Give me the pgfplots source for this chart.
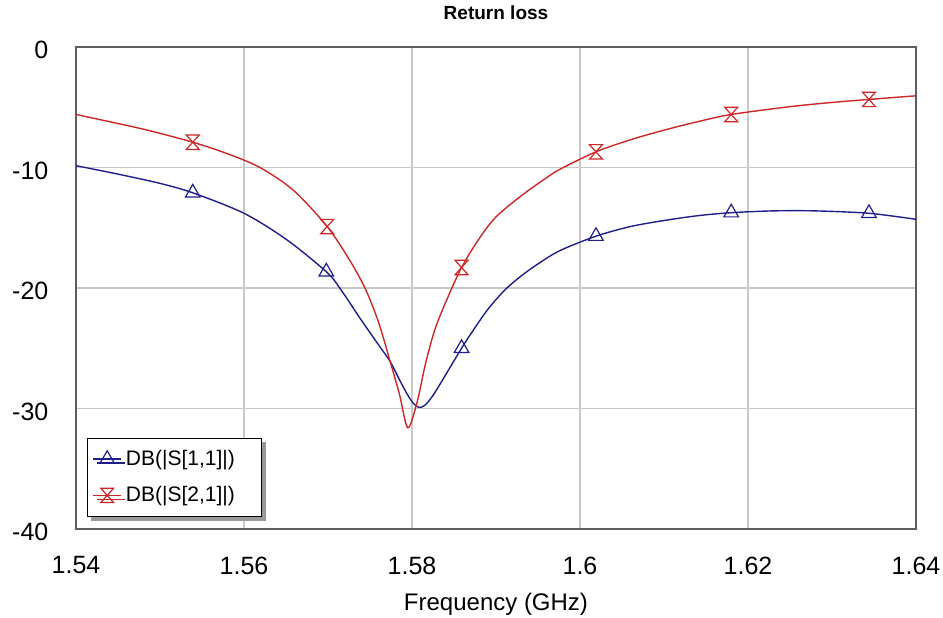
\documentclass[border=0pt]{standalone}
\usepackage{pgfplots}
\pgfplotsset{compat=1.18}
\usepackage{fontspec}
\setmainfont{Liberation Sans}
\usetikzlibrary{shadows}
\definecolor{sblue}{RGB}{30,30,140}
\definecolor{sred}{RGB}{205,40,40}
\definecolor{gridc}{RGB}{200,200,200}
\definecolor{boxc}{RGB}{95,95,95}
\pgfdeclareplotmark{hourglass}{%
  \pgfpathmoveto{\pgfqpoint{-0.9\pgfplotmarksize}{\pgfplotmarksize}}%
  \pgfpathlineto{\pgfqpoint{0.9\pgfplotmarksize}{\pgfplotmarksize}}%
  \pgfpathlineto{\pgfqpoint{-0.9\pgfplotmarksize}{-\pgfplotmarksize}}%
  \pgfpathlineto{\pgfqpoint{0.9\pgfplotmarksize}{-\pgfplotmarksize}}%
  \pgfpathclose\pgfusepathqstroke}
\begin{document}
\begin{tikzpicture}
\useasboundingbox (0,0) rectangle (471.5pt,308.5pt);
\begin{axis}[
  at={(38pt,44pt)}, anchor=south west,
  scale only axis, width=420pt, height=241pt,
  xmin=1.54, xmax=1.64, ymin=-40, ymax=0,
  xtick={1.54,1.56,1.58,1.6,1.62,1.64},
  xticklabels={1.54,1.56,1.58,1.6,1.62,1.64},
  ytick={-40,-30,-20,-10,0},
  major tick length=0pt,
  grid=major,
  major grid style={gridc, line width=0.6pt},
  axis line style={boxc, line width=1.1pt},
  /pgf/number format/assume math mode=true,
  ticklabel style={font=\fontsize{12.5}{14}\selectfont, text=black},
  yticklabel style={xshift=-10.3pt, yshift=-1.5pt},
  xticklabel style={yshift=-10.3pt},
  xlabel={Frequency (GHz)},
  xlabel style={at={(axis description cs:0.5,0)}, anchor=base, yshift=-40.5pt, font=\fontsize{12}{14}\selectfont},
  title={Return loss},
  title style={at={(axis description cs:0.5,1)}, anchor=base, yshift=8pt, font=\bfseries\fontsize{9.5}{11}\selectfont},
  legend style={at={(axis description cs:0,0)}, anchor=south west, xshift=5.5pt, yshift=6pt,
     draw=black, fill=white, line width=0.5pt, font=\fontsize{10.5}{12}\selectfont,
     row sep=5pt, inner xsep=2.5pt, inner ysep=4pt,
     drop shadow={shadow xshift=2pt, shadow yshift=-2pt, fill=gray!80, opacity=1}},
  legend cell align=left,
  legend image code/.code={\draw[#1, mark indices={2}] plot coordinates {(0pt,0pt) (7pt,0pt) (14pt,0pt)};},
]
\addplot[sblue, line width=0.7pt, smooth, tension=0.5, mark=triangle, mark size=4.2pt,
  mark options={solid, line width=0.6pt}, mark indices={4,7,18,25,29,32}] coordinates {
(1.5400,-9.85) (1.5450,-10.55) (1.5499,-11.3) (1.5539,-12.1) (1.5600,-13.8) (1.5651,-16.0)
(1.5698,-18.65) (1.5714,-20.0) (1.5740,-22.7) (1.5760,-24.7) (1.5774,-26.1) (1.5785,-27.6)
(1.5795,-28.9) (1.5802,-29.6) (1.5808,-29.9) (1.5815,-29.75) (1.5827,-28.7) (1.5859,-25.0)
(1.5873,-23.5) (1.5890,-21.8) (1.5910,-20.2) (1.5930,-19.0) (1.5950,-18.0) (1.5976,-16.9)
(1.6019,-15.7) (1.6060,-14.9) (1.6100,-14.4) (1.6140,-14.0) (1.6180,-13.75) (1.6230,-13.6)
(1.6280,-13.6) (1.6344,-13.8) (1.6400,-14.3)
};
\addlegendentry{DB(|S[1,1]|)\rule{9pt}{0pt}}
\addplot[sred, line width=0.7pt, smooth, tension=0.5, mark=hourglass, mark size=3.6pt,
  mark options={solid, line width=0.6pt}, mark indices={4,8,19,25,29,32}] coordinates {
(1.5400,-5.6) (1.5450,-6.35) (1.5488,-6.95) (1.5539,-7.9) (1.5580,-8.85) (1.5619,-10.0)
(1.5659,-11.9) (1.5699,-14.9) (1.5725,-17.6) (1.5744,-20.0) (1.5760,-22.8) (1.5774,-26.1)
(1.5785,-28.8) (1.5795,-31.6) (1.5806,-29.5) (1.5816,-26.3) (1.5827,-23.5) (1.5840,-21.2)
(1.5859,-18.3) (1.5880,-15.9) (1.5900,-14.1) (1.5930,-12.35) (1.5955,-11.1) (1.5976,-10.15)
(1.6019,-8.7) (1.6060,-7.7) (1.6100,-6.9) (1.6140,-6.2) (1.6180,-5.6) (1.6250,-4.95)
(1.6300,-4.6) (1.6344,-4.35) (1.6400,-4.05)
};
\addlegendentry{DB(|S[2,1]|)\rule{9pt}{0pt}}
\end{axis}
\end{tikzpicture}
\end{document}
